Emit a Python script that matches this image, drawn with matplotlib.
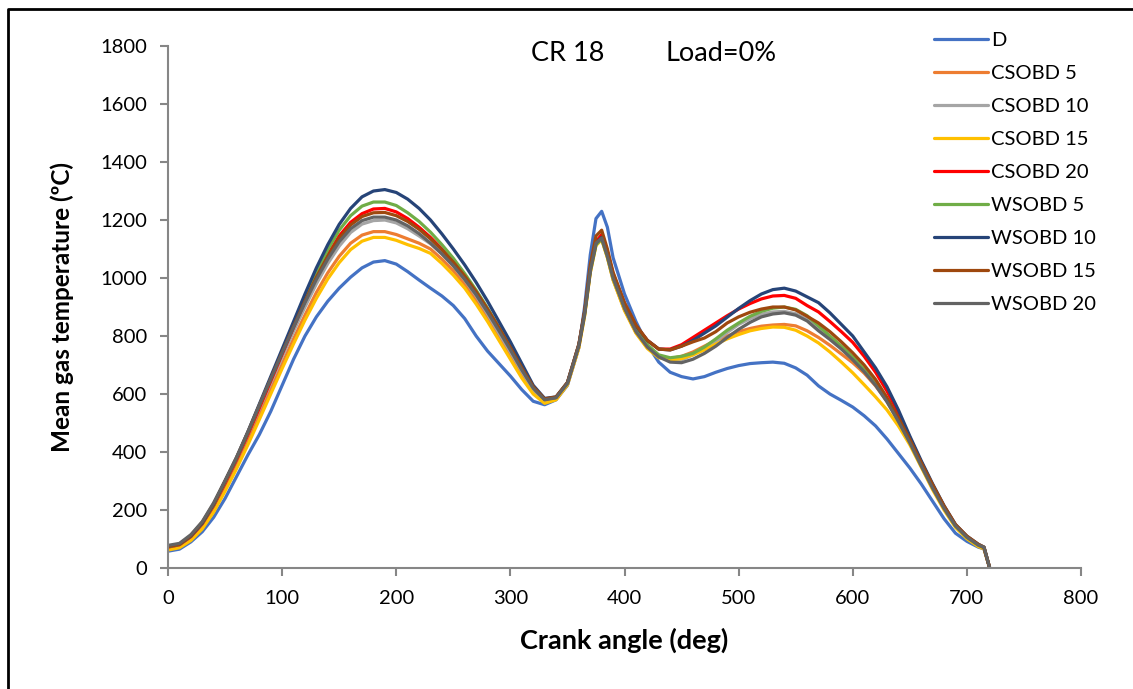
import numpy as np
import matplotlib.pyplot as plt
from matplotlib.lines import Line2D

plt.rcParams['font.family'] = ['Lato', 'DejaVu Sans']

# crank angle (deg)
angle = [0, 10, 20, 30, 40, 50, 60, 70, 80, 90, 100, 110, 120, 130, 140, 150, 160, 170, 180, 190,
         200, 210, 220, 230, 240, 250, 260, 270, 280, 290, 300, 310, 320, 330, 340, 350, 360,
         365, 370, 375, 380, 385,
         390, 400, 410, 420, 430, 440, 450, 460, 470, 480, 490, 500, 510, 520, 530, 540, 550,
         560, 570, 580, 590, 600, 610, 620, 630, 640, 650, 660, 670, 680, 690, 700, 710,
         715, 720]

# mean gas temperature (C) per fuel
D = [58, 65, 90, 125, 175, 240, 315, 390, 460, 540, 630, 720, 800, 866, 920, 965, 1003, 1035, 1055, 1060,
     1048, 1022, 993, 965, 938, 905, 860, 800, 748, 705, 662, 615, 575, 563, 580, 630, 760,
     900, 1080, 1205, 1230, 1175,
     1070, 945, 850, 770, 710, 675, 660, 652, 660, 675, 688, 698, 705, 708, 710, 706, 690,
     665, 628, 600, 578, 555, 525, 490, 445, 395, 345, 290, 230, 170, 120, 92, 72,
     66, 0]
csobd5 = [65, 72, 98, 140, 200, 275, 352, 438, 527, 615, 703, 790, 872, 950, 1018, 1075, 1120, 1148, 1160, 1160,
          1150, 1135, 1120, 1100, 1065, 1025, 978, 922, 860, 795, 728, 662, 605, 572, 582, 633, 762,
          870, 1020, 1115, 1135, 1072,
          995, 890, 812, 760, 728, 722, 730, 745, 765, 785, 800, 815, 826, 834, 838, 840, 835,
          818, 795, 768, 738, 708, 672, 628, 575, 510, 437, 355, 278, 207, 145, 105, 77,
          69, 0]
csobd10 = [72, 80, 108, 152, 215, 292, 370, 458, 548, 638, 728, 816, 900, 980, 1050, 1110, 1157, 1186, 1198, 1200,
           1190, 1170, 1145, 1118, 1083, 1042, 993, 938, 876, 810, 745, 678, 615, 578, 585, 635, 765,
           872, 1020, 1115, 1135, 1072,
           995, 892, 815, 762, 730, 715, 718, 735, 758, 782, 812, 840, 860, 875, 883, 885, 877,
           857, 825, 795, 762, 725, 682, 633, 575, 507, 433, 352, 275, 205, 143, 104, 77,
           69, 0]
csobd15 = [62, 70, 95, 135, 193, 265, 342, 425, 512, 600, 688, 773, 855, 930, 997, 1053, 1098, 1127, 1140, 1140,
           1130, 1115, 1102, 1085, 1050, 1010, 965, 910, 850, 785, 720, 655, 600, 568, 580, 632, 760,
           868, 1018, 1112, 1132, 1070,
           993, 888, 810, 757, 725, 718, 722, 735, 752, 772, 790, 805, 818, 826, 831, 830, 820,
           800, 776, 745, 710, 673, 632, 590, 545, 490, 425, 348, 270, 200, 140, 101, 74,
           66, 0]
csobd20 = [72, 80, 108, 152, 215, 292, 372, 460, 552, 645, 738, 830, 920, 1005, 1080, 1145, 1192, 1222, 1238, 1240,
           1228, 1205, 1175, 1140, 1100, 1055, 1005, 950, 890, 825, 760, 690, 625, 582, 588, 638, 770,
           880, 1030, 1125, 1150, 1090,
           1015, 912, 835, 785, 755, 755, 770, 795, 820, 845, 870, 893, 912, 928, 938, 940, 930,
           905, 883, 850, 815, 778, 730, 675, 610, 535, 450, 365, 285, 212, 148, 108, 80,
           70, 0]
wsobd5 = [73, 81, 110, 154, 218, 297, 377, 466, 560, 653, 746, 840, 933, 1020, 1098, 1165, 1215, 1248, 1262, 1262,
          1250, 1225, 1195, 1158, 1115, 1068, 1015, 958, 896, 830, 762, 692, 625, 582, 588, 637, 768,
          875, 1025, 1115, 1135, 1075,
          1000, 900, 820, 770, 735, 725, 730, 740, 762, 790, 820, 845, 868, 885, 896, 900, 892,
          870, 835, 800, 765, 728, 685, 635, 578, 510, 435, 355, 280, 208, 145, 106, 79,
          70, 0]
wsobd10 = [75, 82, 110, 155, 220, 300, 380, 470, 565, 660, 755, 850, 945, 1035, 1115, 1185, 1240, 1280, 1300, 1305,
           1295, 1272, 1240, 1200, 1152, 1100, 1045, 985, 920, 850, 780, 705, 630, 585, 590, 640, 770,
           880, 1030, 1120, 1140, 1080,
           1010, 910, 835, 785, 755, 752, 765, 785, 810, 835, 865, 895, 922, 945, 960, 965, 955,
           935, 915, 880, 840, 800, 745, 690, 625, 545, 455, 370, 290, 215, 150, 110, 82,
           72, 0]
wsobd15 = [74, 82, 112, 158, 222, 300, 380, 468, 560, 652, 743, 833, 920, 1003, 1075, 1137, 1183, 1212, 1225, 1226,
           1215, 1195, 1168, 1135, 1097, 1055, 1007, 953, 893, 828, 760, 690, 625, 583, 590, 640, 772,
           885, 1045, 1145, 1165, 1100,
           1020, 915, 838, 785, 755, 752, 765, 780, 793, 815, 845, 866, 882, 893, 900, 900, 890,
           868, 845, 815, 780, 742, 700, 650, 588, 518, 443, 363, 287, 214, 150, 110, 82,
           72, 0]
wsobd20 = [78, 85, 115, 160, 225, 302, 382, 470, 562, 652, 742, 830, 915, 995, 1065, 1125, 1170, 1198, 1210, 1210,
           1200, 1180, 1153, 1120, 1083, 1042, 995, 942, 882, 818, 752, 683, 620, 580, 587, 637, 768,
           875, 1025, 1120, 1138, 1075,
           1000, 895, 815, 762, 728, 710, 708, 720, 740, 765, 795, 823, 847, 866, 876, 880, 872,
           852, 818, 788, 755, 718, 677, 630, 573, 505, 432, 352, 275, 205, 145, 106, 79,
           72, 0]

labels = ['D', 'CSOBD 5', 'CSOBD 10', 'CSOBD 15', 'CSOBD 20',
          'WSOBD 5', 'WSOBD 10', 'WSOBD 15', 'WSOBD 20']
series = [D, csobd5, csobd10, csobd15, csobd20, wsobd5, wsobd10, wsobd15, wsobd20]
colors = ['#4472C4', '#ED7D31', '#A5A5A5', '#FFC000', '#FF0000',
          '#70AD47', '#264478', '#9E480E', '#636363']

fig = plt.figure(figsize=(11.33, 6.89), dpi=100)
ax = fig.add_axes([0.1483, 0.1756, 0.8058, 0.7576])

for y, lab, c in zip(series, labels, colors):
    ax.plot(angle, y, color=c, lw=2.3, label=lab, solid_capstyle='round', solid_joinstyle='round')

ax.set_xlim(0, 800)
ax.set_ylim(0, 1800)
ax.set_xticks(np.arange(0, 801, 100))
ax.set_yticks(np.arange(0, 1801, 200))

for s in ['top', 'right']:
    ax.spines[s].set_visible(False)
for s in ['left', 'bottom']:
    ax.spines[s].set_color('#868686')
    ax.spines[s].set_linewidth(1.5)
ax.tick_params(axis='both', direction='out', length=6, width=1.5, color='#868686',
               labelsize=14.5, labelcolor='black')
ax.tick_params(axis='y', pad=9)
ax.tick_params(axis='x', pad=10)

ax.set_xlabel('Crank angle (deg)', fontsize=19.5, fontweight='bold', labelpad=15)
ax.set_ylabel('Mean gas temperature (ºC)', fontsize=17.5, fontweight='bold', labelpad=19)

ax.text(0.438, 0.985, 'CR 18', transform=ax.transAxes, fontsize=19.5, ha='center', va='center')
ax.text(0.606, 0.985, 'Load=0%', transform=ax.transAxes, fontsize=19.5, ha='center', va='center')

ax.legend(loc='upper left', bbox_to_anchor=(0.83, 1.043), frameon=False, fontsize=14.5,
          handlelength=2.7, handletextpad=0.15, labelspacing=0.79, borderaxespad=0)

# frame around the chart area
fig.add_artist(Line2D([8 / 1133, 8 / 1133, 1], [0, 1 - 9 / 689, 1 - 9 / 689],
                      transform=fig.transFigure, color='black', lw=2))

fig.savefig('out.png', dpi=100)
